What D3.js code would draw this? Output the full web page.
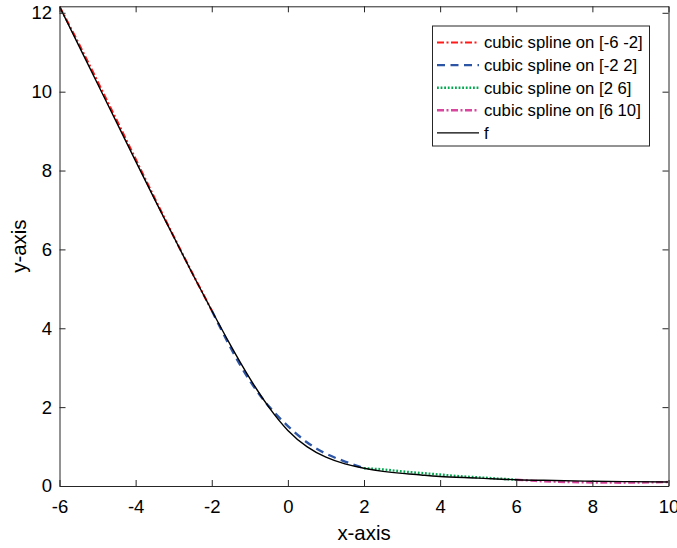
<!DOCTYPE html>
<html>
<head>
<meta charset="utf-8">
<script src="https://cdn.jsdelivr.net/npm/d3@7"></script>
<style>
  html, body { margin: 0; padding: 0; background: #fff; }
  svg { display: block; font-family: "Liberation Sans", Arial, Helvetica, sans-serif; }
</style>
</head>
<body>
<svg id="chart" width="677" height="548"></svg>
<script>
// Function f sampled on [-6, 10]
const fX = [-6, -5.5, -5, -4.5, -4, -3.5, -3, -2.5, -2, -1.5, -1, -0.5, 0, 0.5, 1, 1.5, 2, 2.5, 3, 3.5, 4, 5, 6, 7, 8, 9, 10];
const fY = [12.16, 11.18, 10.20, 9.22, 8.24, 7.27, 6.32, 5.37, 4.45, 3.56, 2.73, 2.00, 1.41, 1.00, 0.73, 0.56, 0.45, 0.37, 0.32, 0.28, 0.24, 0.20, 0.16, 0.14, 0.12, 0.11, 0.10];

// Piecewise cubic spline approximations
const s1X = [-6, -5.5, -5, -4.5, -4, -3.5, -3, -2.5, -2];
const s1Y = [12.16, 11.23, 10.26, 9.28, 8.29, 7.30, 6.33, 5.38, 4.45];
const s2X = [-2, -1.5, -1, -0.5, 0, 0.5, 1, 1.5, 2];
const s2Y = [4.45, 3.50, 2.67, 2.02, 1.52, 1.11, 0.82, 0.62, 0.45];
const s3X = [2, 2.5, 3, 3.5, 4, 4.5, 5, 5.5, 6];
const s3Y = [0.45, 0.42, 0.37, 0.33, 0.29, 0.25, 0.22, 0.19, 0.16];
const s4X = [6, 6.5, 7, 8, 9, 10];
const s4Y = [0.16, 0.13, 0.11, 0.09, 0.085, 0.10];

const xTicks = [-6, -4, -2, 0, 2, 4, 6, 8, 10];
const yTicks = [0, 2, 4, 6, 8, 10, 12];
const xDomain = [-6, 10];
const yDomain = [0, 12.165];

const legendLabels = ["cubic spline on [-6 -2]", "cubic spline on [-2 2]", "cubic spline on [2 6]", "cubic spline on [6 10]", "f"];

const series = [
  { xs: s1X, ys: s1Y, color: "#ff1a1a", width: 2.2, dash: "7,2.5,2,2.5" },
  { xs: s2X, ys: s2Y, color: "#2d55a6", width: 2.4, dash: "8,5.5" },
  { xs: s3X, ys: s3Y, color: "#00a84f", width: 2.4, dash: "1.8,1.8" },
  { xs: s4X, ys: s4Y, color: "#d9469d", width: 2.4, dash: "7,2.5,2,2.5" },
  { xs: fX, ys: fY, color: "#000000", width: 1.4, dash: null }
];

const svg = d3.select("#chart");
const plotLeft = 59.5, plotRight = 668.5, plotTop = 6.3, plotBottom = 486;
const axisColor = "#262626";
const plainNum = d => String(d); // hyphen-minus for negative ticks

const x = d3.scaleLinear().domain(xDomain).range([plotLeft, plotRight]);
const y = d3.scaleLinear().domain(yDomain).range([plotBottom, plotTop]);

svg.append("defs").append("clipPath").attr("id", "plotClip")
  .append("rect").attr("x", plotLeft).attr("y", plotTop - 2)
  .attr("width", plotRight - plotLeft).attr("height", plotBottom - plotTop + 2);

// Curves
const line = d3.line().x(d => x(d[0])).y(d => y(d[1])).curve(d3.curveNatural);
const plot = svg.append("g").attr("clip-path", "url(#plotClip)");
series.forEach(s => {
  plot.append("path")
    .datum(s.xs.map((v, i) => [v, s.ys[i]]))
    .attr("d", line)
    .attr("fill", "none")
    .attr("stroke", s.color)
    .attr("stroke-width", s.width)
    .attr("stroke-dasharray", s.dash);
});

// Axes (box with inward ticks on all four sides)
function styleAxis(g) {
  g.selectAll("path.domain").attr("stroke", axisColor).attr("stroke-width", 1);
  g.selectAll(".tick line").attr("stroke", axisColor).attr("stroke-width", 1);
  g.selectAll(".tick text").attr("fill", "#000").attr("font-size", "18.5px")
    .attr("font-family", "'Liberation Sans', Arial, Helvetica, sans-serif");
}
svg.append("g").attr("transform", `translate(0,${plotBottom})`)
  .call(d3.axisBottom(x).tickValues(xTicks).tickSizeInner(-6).tickSizeOuter(0).tickPadding(14).tickFormat(plainNum))
  .call(styleAxis);
svg.append("g").attr("transform", `translate(0,${plotTop})`)
  .call(d3.axisTop(x).tickValues(xTicks).tickSizeInner(-6).tickSizeOuter(0).tickFormat(""))
  .call(styleAxis);
svg.append("g").attr("transform", `translate(${plotLeft},0)`)
  .call(d3.axisLeft(y).tickValues(yTicks).tickSizeInner(-6).tickSizeOuter(0).tickPadding(7.5).tickFormat(plainNum))
  .call(styleAxis);
svg.append("g").attr("transform", `translate(${plotRight},0)`)
  .call(d3.axisRight(y).tickValues(yTicks).tickSizeInner(-6).tickSizeOuter(0).tickFormat(""))
  .call(styleAxis);

// Axis titles
svg.append("text").attr("x", (plotLeft + plotRight) / 2).attr("y", 540)
  .attr("text-anchor", "middle").attr("font-size", "20.4px").text("x-axis");
svg.append("text").attr("transform", `translate(26,${(plotTop + plotBottom) / 2}) rotate(-90)`)
  .attr("text-anchor", "middle").attr("font-size", "20.4px").text("y-axis");

// Legend
const lg = svg.append("g");
lg.append("rect").attr("x", 432.5).attr("y", 26).attr("width", 217).attr("height", 120)
  .attr("fill", "#fff").attr("stroke", axisColor).attr("stroke-width", 1);
legendLabels.forEach((label, i) => {
  const s = series[i];
  const cy = 42.5 + i * 22.6;
  lg.append("line").attr("x1", 437).attr("x2", 479).attr("y1", cy).attr("y2", cy)
    .attr("stroke", s.color).attr("stroke-width", s.width).attr("stroke-dasharray", s.dash);
  lg.append("text").attr("x", 484).attr("y", cy).attr("dy", "0.35em")
    .attr("font-size", "16.7px").attr("fill", "#000").text(label);
});
</script>
</body>
</html>
